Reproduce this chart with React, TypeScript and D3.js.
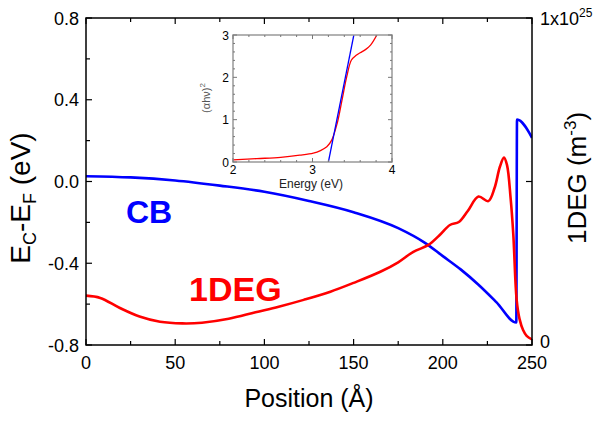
import React from "react";
import * as d3 from "d3";

// ---- Main chart data ----
const cbPos = [0, 25, 50, 75, 100, 125, 150, 175, 190, 200, 210, 220, 230, 241.2, 241.6, 250];
const cbEnergy = [0.026, 0.02, 0.005, -0.02, -0.05, -0.095, -0.15, -0.228, -0.3, -0.365, -0.43, -0.505, -0.59, -0.69, 0.303, 0.214];

const degPos = [0, 8, 19, 30, 41.5, 54, 65, 80, 95, 108, 122, 137, 150, 165, 175, 183.5, 192, 198, 204, 209, 214, 220, 225.5, 229, 232, 234.3, 236, 238, 239.5, 241.4, 243, 245, 247, 250];
const degDensity = [0.151, 0.144, 0.113, 0.087, 0.071, 0.066, 0.068, 0.08, 0.1, 0.117, 0.138, 0.163, 0.19, 0.224, 0.253, 0.285, 0.306, 0.335, 0.367, 0.376, 0.41, 0.454, 0.44, 0.48, 0.545, 0.573, 0.55, 0.45, 0.34, 0.138, 0.08, 0.046, 0.028, 0.017];

const leftTicks = [-0.8, -0.4, 0.0, 0.4, 0.8];
const leftMinor = [-0.6, -0.2, 0.2, 0.6];
const xTicks = [0, 50, 100, 150, 200, 250];
const xMinor = [25, 75, 125, 175, 225];
const rightTicks = [0, 0.5, 1];

// ---- Inset data ----
const insetEnergy = [2.0, 2.3, 2.6, 2.84, 3.01, 3.1, 3.18, 3.24, 3.31, 3.37, 3.43, 3.49, 3.55, 3.6, 3.67, 3.73, 3.81];
const insetAbs = [0.05, 0.08, 0.11, 0.16, 0.21, 0.27, 0.36, 0.51, 0.91, 1.45, 2.01, 2.41, 2.52, 2.58, 2.66, 2.76, 3.0];
const fitEnergy = [3.2, 3.52];
const fitAbs = [0, 3];
const insetXTicks = [2, 3, 4];
const insetYTicks = [0, 1, 2, 3];

const FONT = "Liberation Sans, Arial, sans-serif";

export default function App() {
  const L = 86, R = 532, T = 18, B = 345;
  const x = d3.scaleLinear().domain([0, 250]).range([L, R]);
  const yL = d3.scaleLinear().domain([-0.8, 0.8]).range([B, T]);
  const yR = d3.scaleLinear().domain([0, 1]).range([B, T]);

  const cbLine = d3.line<number>().x((_, i) => x(cbPos[i])).y((d) => yL(d)).curve(d3.curveMonotoneX);
  const degLine = d3.line<number>().x((_, i) => x(degPos[i])).y((d) => yR(d)).curve(d3.curveCatmullRom.alpha(0.5));

  // Inset
  const iL = 233, iR = 392, iT = 35, iB = 162;
  const ix = d3.scaleLinear().domain([2, 4]).range([iL, iR]);
  const iy = d3.scaleLinear().domain([0, 3]).range([iB, iT]);
  const insetLine = d3.line<number>().x((_, i) => ix(insetEnergy[i])).y((d) => iy(d)).curve(d3.curveCatmullRom.alpha(0.5));
  const fitLine = d3.line<number>().x((_, i) => ix(fitEnergy[i])).y((d) => iy(d));
  const iMinorX = d3.range(2, 4.0001, 0.2).filter((v) => Math.abs(v - Math.round(v)) > 0.01);
  const iMinorY = d3.range(0, 3.0001, 0.2).filter((v) => Math.abs(v - Math.round(v)) > 0.01);

  return (
    <svg width={600} height={421} style={{ position: "absolute", left: 0, top: 0, background: "#fff" }} fontFamily={FONT}>
      <rect x={0} y={0} width={600} height={421} fill="#fff" />
      <defs>
        <clipPath id="mainclip"><rect x={L} y={T} width={R - L} height={B - T} /></clipPath>
        <clipPath id="insetclip"><rect x={iL} y={iT} width={iR - iL} height={iB - iT} /></clipPath>
      </defs>

      {/* main curves */}
      <g clipPath="url(#mainclip)">
        <path d={cbLine(cbEnergy) || ""} fill="none" stroke="#0000ff" strokeWidth={2.6} strokeLinejoin="round" />
        <path d={degLine(degDensity) || ""} fill="none" stroke="#ff0000" strokeWidth={2.6} />
      </g>

      {/* frame */}
      <rect x={L} y={T} width={R - L} height={B - T} fill="none" stroke="#000" strokeWidth={1.5} />

      {/* x ticks bottom & top */}
      {xTicks.map((t) => (
        <g key={"xt" + t}>
          <line x1={x(t)} x2={x(t)} y1={B} y2={B - 6} stroke="#000" strokeWidth={1.2} />
          <line x1={x(t)} x2={x(t)} y1={T} y2={T + 6} stroke="#000" strokeWidth={1.2} />
          <text x={x(t)} y={369} textAnchor="middle" fontSize={18}>{t}</text>
        </g>
      ))}
      {xMinor.map((t) => (
        <g key={"xm" + t}>
          <line x1={x(t)} x2={x(t)} y1={B} y2={B - 4} stroke="#000" strokeWidth={1.2} />
          <line x1={x(t)} x2={x(t)} y1={T} y2={T + 4} stroke="#000" strokeWidth={1.2} />
        </g>
      ))}

      {/* left ticks */}
      {leftTicks.map((t) => (
        <g key={"yl" + t}>
          <line x1={L} x2={L + 6} y1={yL(t)} y2={yL(t)} stroke="#000" strokeWidth={1.2} />
          <text x={79} y={yL(t) + 6.5} textAnchor="end" fontSize={18}>{t.toFixed(1)}</text>
        </g>
      ))}
      {leftMinor.map((t) => (
        <line key={"ylm" + t} x1={L} x2={L + 4} y1={yL(t)} y2={yL(t)} stroke="#000" strokeWidth={1.2} />
      ))}

      {/* right ticks */}
      {rightTicks.map((t) => (
        <line key={"yr" + t} x1={R} x2={R - 6} y1={yR(t)} y2={yR(t)} stroke="#000" strokeWidth={1.2} />
      ))}
      <text x={540} y={yR(0) + 3} fontSize={18}>0</text>
      <text x={540} y={yR(1) + 6.5} fontSize={18}>1x10<tspan dy={-8} fontSize={12}>25</tspan></text>

      {/* axis titles */}
      <text transform="translate(30,198) rotate(-90)" textAnchor="middle" fontSize={28}>
        E<tspan dy={6} fontSize={18}>C</tspan><tspan dy={-6}>-E</tspan><tspan dy={6} fontSize={18}>F</tspan><tspan dy={-6}> (eV)</tspan>
      </text>
      <text transform="translate(586,178) rotate(-90)" textAnchor="middle" fontSize={26}>
        1DEG (m<tspan dy={-10} fontSize={17}>-3</tspan><tspan dy={10}>)</tspan>
      </text>
      <text x={309} y={407} textAnchor="middle" fontSize={25}>Position (Å)</text>

      {/* labels */}
      <text x={126} y={223} fontSize={32} fontWeight="bold" fill="#0000ff">CB</text>
      <text x={189} y={301} fontSize={34} fontWeight="bold" fill="#ff0000">1DEG</text>

      {/* inset */}
      <rect x={iL} y={iT} width={iR - iL} height={iB - iT} fill="#fff" stroke="none" />
      <g clipPath="url(#insetclip)">
        <path d={insetLine(insetAbs) || ""} fill="none" stroke="#ff0000" strokeWidth={1.3} />
        <path d={fitLine(fitAbs) || ""} fill="none" stroke="#0000ff" strokeWidth={1.3} />
      </g>
      <rect x={iL} y={iT} width={iR - iL} height={iB - iT} fill="none" stroke="#999" strokeWidth={1.5} />
      {insetXTicks.map((t) => (
        <g key={"ixt" + t}>
          <line x1={ix(t)} x2={ix(t)} y1={iB} y2={iB - 4} stroke="#777" />
          <line x1={ix(t)} x2={ix(t)} y1={iT} y2={iT + 4} stroke="#777" />
          <text x={ix(t)} y={174} textAnchor="middle" fontSize={12}>{t}</text>
        </g>
      ))}
      {iMinorX.map((t) => (
        <g key={"ixm" + t}>
          <line x1={ix(t)} x2={ix(t)} y1={iB} y2={iB - 2} stroke="#777" />
          <line x1={ix(t)} x2={ix(t)} y1={iT} y2={iT + 2} stroke="#777" />
        </g>
      ))}
      {insetYTicks.map((t) => (
        <g key={"iyt" + t}>
          <line x1={iL} x2={iL + 4} y1={iy(t)} y2={iy(t)} stroke="#777" />
          <line x1={iR} x2={iR - 4} y1={iy(t)} y2={iy(t)} stroke="#777" />
          <text x={229} y={iy(t) + 4.5} textAnchor="end" fontSize={12}>{t}</text>
        </g>
      ))}
      {iMinorY.map((t) => (
        <g key={"iym" + t}>
          <line x1={iL} x2={iL + 2} y1={iy(t)} y2={iy(t)} stroke="#777" />
          <line x1={iR} x2={iR - 2} y1={iy(t)} y2={iy(t)} stroke="#777" />
        </g>
      ))}
      <text x={311} y={188} textAnchor="middle" fontSize={12} fill="#222">Energy (eV)</text>
      <text transform="translate(210,98) rotate(-90)" textAnchor="middle" fontSize={11} fill="#555">
        (αhν)<tspan dy={-5} fontSize={8}>2</tspan>
      </text>
    </svg>
  );
}
